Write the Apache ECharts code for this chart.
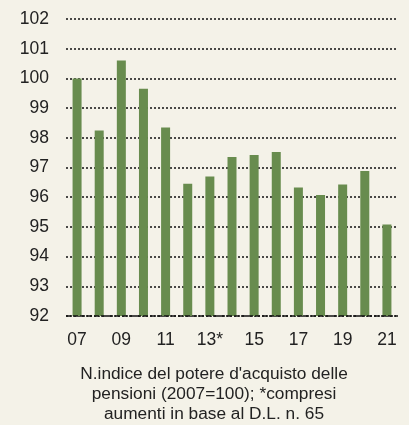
<!DOCTYPE html>
<html>
<head>
<meta charset="utf-8">
<script src="https://cdn.jsdelivr.net/npm/echarts@6/dist/echarts.min.js"></script>
<style>
  html, body { margin: 0; padding: 0; background: #f4f2e8; }
  #chart { width: 409px; height: 425px; }
</style>
</head>
<body>
<div id="chart"></div>
<script>
// Pension purchasing-power index, 2007 = 100
const years = ['07', '08', '09', '10', '11', '12', '13*', '14', '15', '16', '17', '18', '19', '20', '21'];
const indexValues = [100.0, 98.25, 100.6, 99.65, 98.35, 96.45, 96.7, 97.35, 97.42, 97.52, 96.33, 96.07, 96.43, 96.88, 95.08];
const yTicks = [92, 93, 94, 95, 96, 97, 98, 99, 100, 101, 102];
const caption = "N.indice del potere d'acquisto delle\npensioni (2007=100); *compresi\naumenti in base al D.L. n. 65";

const FONT = '"Liberation Sans", Arial, sans-serif';
const chart = echarts.init(document.getElementById('chart'), null, { renderer: 'canvas' });

chart.setOption({
  backgroundColor: '#f4f2e8',
  animation: false,
  title: {
    text: caption,
    left: 209,
    top: 359,
    textAlign: 'center',
    textStyle: {
      fontFamily: FONT,
      fontSize: 17.3,
      fontWeight: 'normal',
      color: '#222',
      lineHeight: 20
    }
  },
  grid: { left: 66, right: 11, top: 19, bottom: 109, containLabel: false },
  xAxis: {
    type: 'category',
    data: years,
    axisLine: { show: false },
    axisTick: { show: false },
    axisLabel: {
      interval: 1,
      margin: 15,
      fontFamily: FONT,
      fontSize: 17.5,
      color: '#222'
    }
  },
  yAxis: {
    type: 'value',
    min: yTicks[0],
    max: yTicks[yTicks.length - 1],
    interval: 1,
    axisLine: { show: false },
    axisTick: { show: false },
    axisLabel: {
      margin: 17,
      fontFamily: FONT,
      fontSize: 17.5,
      color: '#222'
    },
    splitLine: {
      show: true,
      lineStyle: { color: '#111', width: 1.5, type: [2, 2] }
    }
  },
  series: [
    {
      type: 'bar',
      data: indexValues,
      barWidth: 9,
      itemStyle: { color: '#688c4e' },
      z: 3,
      markLine: {
        silent: true,
        symbol: 'none',
        label: { show: false },
        lineStyle: { color: '#111', width: 1.5, type: [5, 2] },
        z: 4,
        data: [{ yAxis: yTicks[0] }]
      }
    }
  ]
});
</script>
</body>
</html>
